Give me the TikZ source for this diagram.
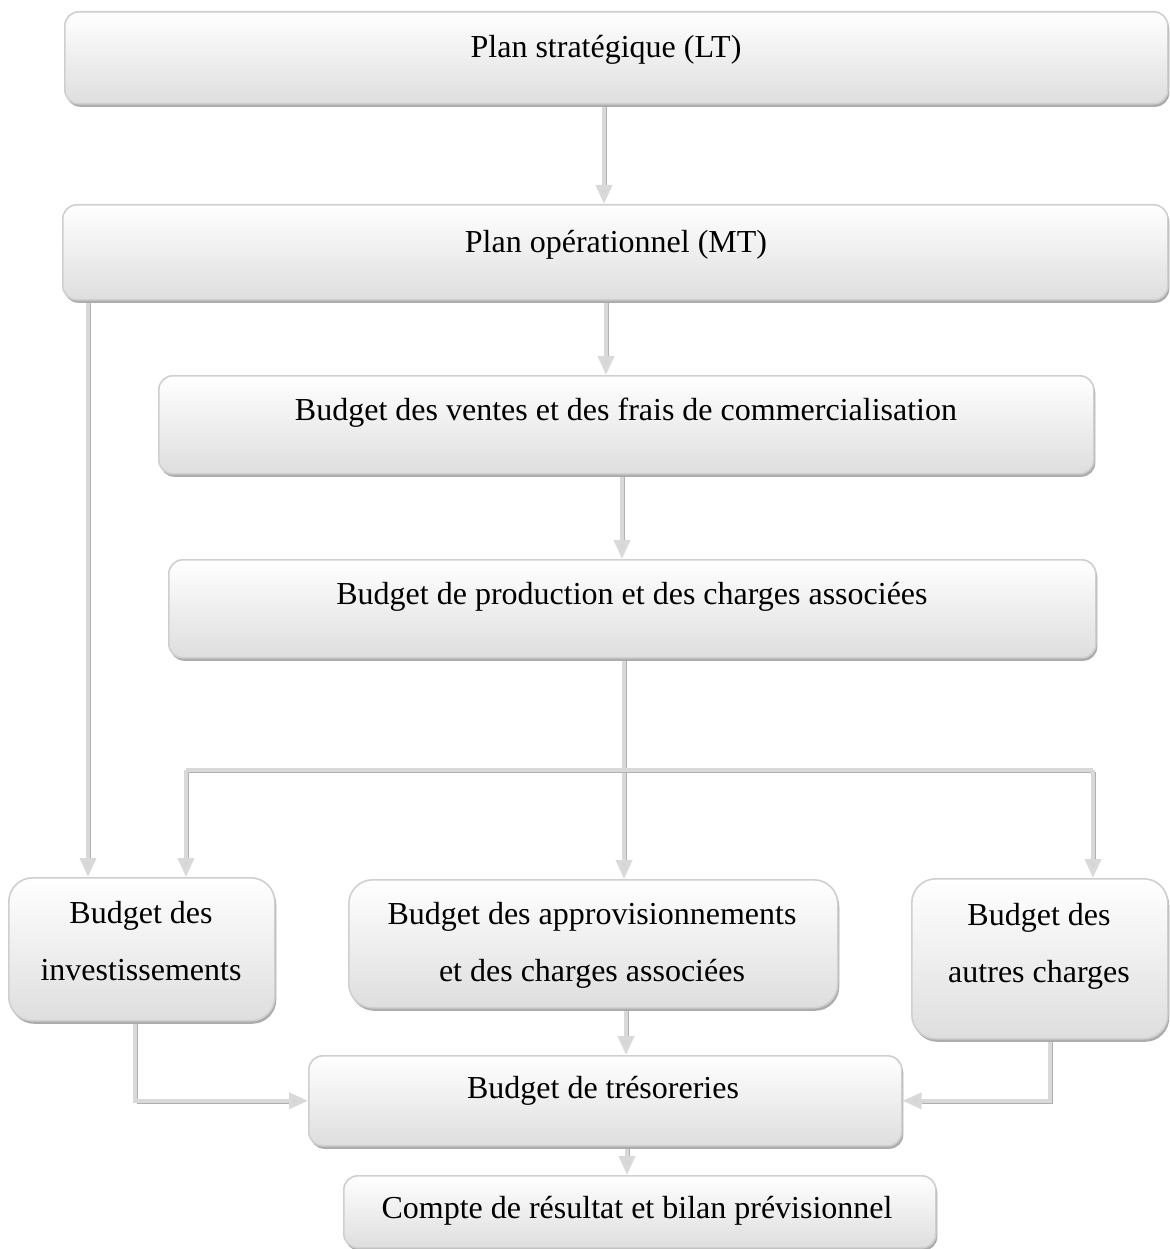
\documentclass[tikz,border=0pt]{standalone}
\usepackage{fontspec}
\setmainfont{Liberation Serif}
\usetikzlibrary{arrows.meta,shadows,backgrounds}

% a connector: a dark offset copy underneath, the light line on top
\newcommand\arrowlink[1]{%
  \draw[shadowline, shorten >=17pt] #1;
  \draw[arr] #1;}
\newcommand\plainlink[1]{%
  \draw[shadowline] #1;
  \draw[conn] #1;}

\begin{document}
\begin{tikzpicture}[x=1pt,y=-1pt,
  box/.style={rectangle, rounded corners=14pt, draw=gray!38, line width=1.6pt,
    top color=white, bottom color=gray!26, anchor=north west, inner sep=0pt,
    drop shadow={shadow xshift=1.5pt, shadow yshift=-3pt, fill=gray!65, opacity=1}},
  tallbox/.style={box, rounded corners=24pt},
  txt/.style={font=\fontsize{32}{57}\selectfont, align=center, inner sep=0pt},
  shadowline/.style={draw=gray!62, line width=1.6pt,
    transform canvas={shift={(2.4pt,-2.2pt)}}},
  conn/.style={line width=3.8pt, draw=gray!30},
  arr/.style={conn, -{Triangle[width=16pt,length=19pt,fill=gray!33]}}
]
\useasboundingbox (0,0) rectangle (1169,1249);

% boxes
\node[box, minimum width=1103pt, minimum height=92pt] (b1) at (64,11) {};
\node[box, minimum width=1105pt, minimum height=95pt] (b2) at (62,204) {};
\node[box, minimum width=935pt, minimum height=98pt] (b3) at (158,375) {};
\node[box, minimum width=927pt, minimum height=98pt] (b4) at (168,559) {};
\node[tallbox, minimum width=266pt, minimum height=143pt] (b5) at (8,877) {};
\node[tallbox, minimum width=489pt, minimum height=128pt] (b6) at (348,879) {};
\node[tallbox, minimum width=256pt, minimum height=160pt] (b7) at (911,878) {};
\node[box, minimum width=593pt, minimum height=90pt] (b8) at (308,1055) {};
\node[box, minimum width=592pt, minimum height=72pt] (b9) at (343,1175) {};

% labels (base anchor = baseline of the last line)
\node[txt, anchor=base] (t1) at (606,58) {Plan stratégique (LT)};
\node[txt, anchor=base] (t2) at (616,252) {Plan opérationnel (MT)};
\node[txt, anchor=base] (t3) at (626,420) {Budget des ventes et des frais de commercialisation};
\node[txt, anchor=base] (t4) at (632,604) {Budget de production et des charges associées};
\node[txt, anchor=base] (t5) at (141,980) {Budget des\\investissements};
\node[txt, anchor=base] (t6) at (592,981) {Budget des approvisionnements\\et des charges associées};
\node[txt, anchor=base] (t7) at (1039,982) {Budget des\\autres charges};
\node[txt, anchor=base] (t8) at (603,1098) {Budget de trésoreries};
\node[txt, anchor=base] (t9) at (637,1218) {Compte de résultat et bilan prévisionnel};

% connector columns and branch points
\coordinate (x12) at (604,0);
\coordinate (x23) at (606,0);
\coordinate (x34) at (622,0);
\coordinate (x46) at (624,0);
\coordinate (xL) at (88,0);
\coordinate (jL) at (186,770);
\coordinate (jR) at (1093,770);
\coordinate (x58) at (135,0);
\coordinate (x68) at (626,0);
\coordinate (x78) at (1050,0);
\coordinate (x89) at (627,0);

\begin{pgfonlayer}{background}
\arrowlink{(b1.south -| x12) -- (b2.north -| x12)}
\arrowlink{(b2.south -| x23) -- (b3.north -| x23)}
\arrowlink{(b3.south -| x34) -- (b4.north -| x34)}
\arrowlink{(b4.south -| x46) -- (b6.north -| x46)}
\arrowlink{(b2.south -| xL) -- (b5.north -| xL)}
\plainlink{(jL) -- (jR)}
\arrowlink{(jL) -- (b5.north -| jL)}
\arrowlink{(jR) -- (b7.north -| jR)}
\arrowlink{(b5.south -| x58) |- (b8.west)}
\arrowlink{(b6.south -| x68) -- (b8.north -| x68)}
\arrowlink{(b7.south -| x78) |- (b8.east)}
\arrowlink{(b8.south -| x89) -- (b9.north -| x89)}
\end{pgfonlayer}
\end{tikzpicture}
\end{document}
